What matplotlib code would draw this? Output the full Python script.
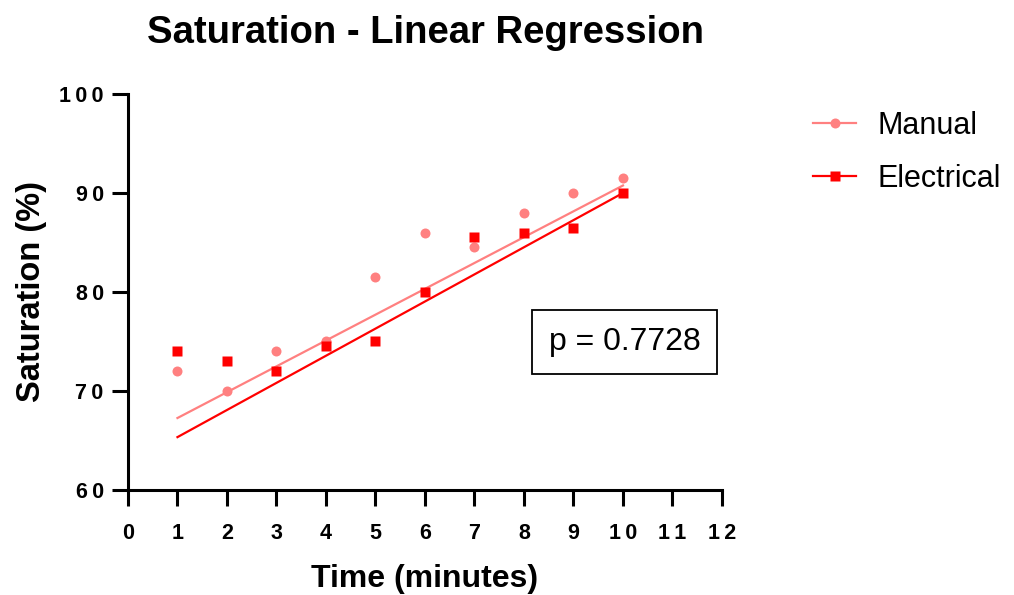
import matplotlib.pyplot as plt
from matplotlib.lines import Line2D
import numpy as np

plt.rcParams['font.family'] = ['Liberation Sans', 'DejaVu Sans']

# readings from the chart
minutes = np.array([1, 2, 3, 4, 5, 6, 7, 8, 9, 10])
manual = np.array([72, 70, 74, 75, 81.5, 86, 84.5, 88, 90, 91.5])
electrical = np.array([74, 73, 72, 74.5, 75, 80, 85.6, 86, 86.5, 90])

# regression lines as drawn (slope, intercept)
manual_fit = (2.61, 64.66)
electrical_fit = (2.74, 62.6)
p_value = 0.7728

x_ticks = list(range(0, 13))
y_ticks = [60, 70, 80, 90, 100]

manual_color = '#ff8080'
electrical_color = '#ff0000'

def spaced(v):
    return '\u2009'.join(str(v))

fig = plt.figure(figsize=(10.14, 5.95), dpi=100)
ax = fig.add_axes([0.1262, 0.1765, 0.5858, 0.6655])

fit_x = np.array([minutes.min(), minutes.max()])
ax.plot(fit_x, manual_fit[0] * fit_x + manual_fit[1], color=manual_color, lw=1.6)
ax.plot(fit_x, electrical_fit[0] * fit_x + electrical_fit[1], color=electrical_color, lw=1.6)
ax.plot(minutes, manual, 'o', color=manual_color, ms=7.2, mec='none')
ax.plot(minutes, electrical, 's', color=electrical_color, ms=7.2, mec='none')

ax.set_xlim(0, 12)
ax.set_ylim(60, 100)
ax.set_xticks(x_ticks)
ax.set_xticklabels([spaced(t) for t in x_ticks])
ax.set_yticks(y_ticks)
ax.set_yticklabels([spaced(t) for t in y_ticks])
for lab in ax.get_xticklabels() + ax.get_yticklabels():
    lab.set_fontweight('bold')
    lab.set_fontsize(15.5)
ax.tick_params(length=11.5, width=2.2)
ax.tick_params(axis='x', pad=12)
ax.tick_params(axis='y', pad=6)
for side in ['top', 'right']:
    ax.spines[side].set_visible(False)
for side in ['left', 'bottom']:
    ax.spines[side].set_linewidth(2.2)

ax.set_xlabel('Time (minutes)', fontsize=23, fontweight='bold', labelpad=15)
ax.set_ylabel('Saturation (%)', fontsize=23.5, fontweight='bold', labelpad=9)
fig.suptitle('Saturation - Linear Regression', fontsize=27.5, fontweight='bold', x=0.42, y=0.975)

ax.text(10.04, 74.95, 'p = ' + str(p_value), fontsize=23, ha='center', va='center',
        bbox=dict(boxstyle='square,pad=0.52', fc='white', ec='black', lw=1.3))

handles = [Line2D([], [], color=manual_color, marker='o', ms=7.2, lw=1.6, mec='none'),
           Line2D([], [], color=electrical_color, marker='s', ms=7.2, lw=1.6, mec='none')]
fig.legend(handles, ['Manual', 'Electrical'], loc='upper left', bbox_to_anchor=(0.775, 0.86),
           frameon=False, fontsize=22, handlelength=1.4, handletextpad=0.7, labelspacing=0.75)

plt.savefig('out.png', dpi=100)
